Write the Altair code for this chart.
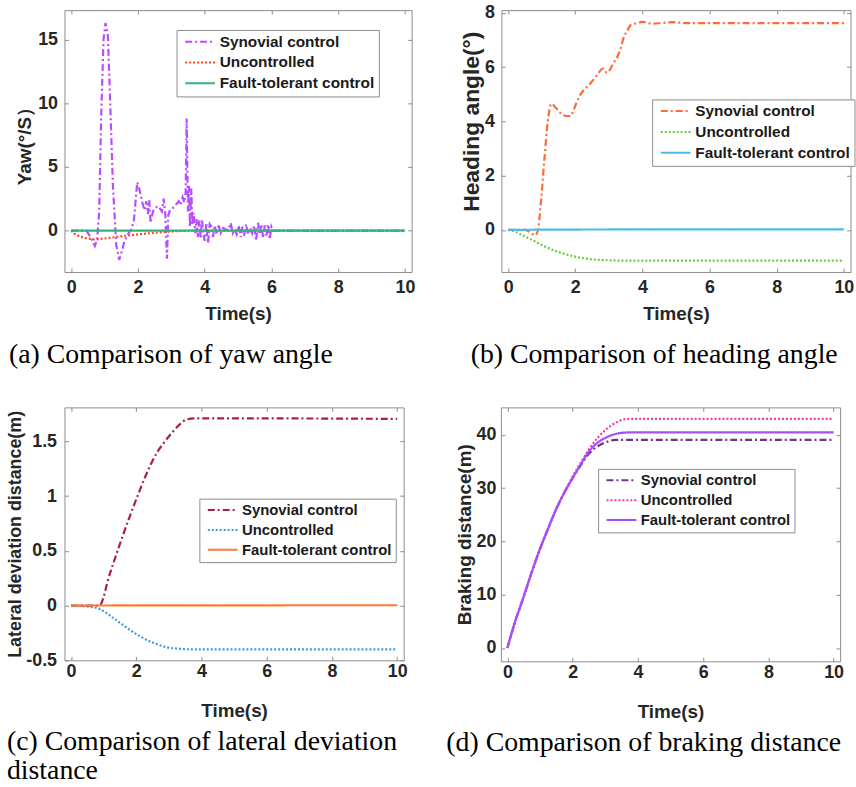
import altair as alt
import pandas as pd

SERIES = ["Synovial control", "Uncontrolled", "Fault-tolerant control"]
X_TICKS = [0, 2, 4, 6, 8, 10]
X_DOMAIN = [-0.2, 10.2]

# (a) yaw rate (deg/s) against time (s)
YAW_SYNOVIAL = [
    (0.0, 0.0), (0.3, 0.0), (0.46, 0.0), (0.6, -0.6), (0.71, -1.2), (0.78, -0.7),
    (0.84, 1.5), (0.9, 9.0), (0.97, 15.0), (1.03, 16.3), (1.1, 15.3), (1.17, 10.0),
    (1.25, 3.6), (1.35, -1.1), (1.44, -2.3), (1.52, -1.6), (1.6, -0.8), (1.7, -0.3),
    (1.8, 0.1), (1.88, 0.8), (1.98, 3.8), (2.05, 3.2), (2.13, 2.2), (2.2, 1.6),
    (2.25, 2.3), (2.3, 1.3), (2.34, 2.4), (2.38, 0.6), (2.45, 1.5), (2.52, 1.8),
    (2.62, 1.9), (2.72, 1.5), (2.77, 2.5), (2.82, 1.3), (2.87, -2.2), (2.91, 1.2),
    (2.96, 1.6), (3.02, 1.7), (3.1, 1.9), (3.16, 2.1), (3.22, 2.3), (3.28, 2.0),
    (3.34, 2.6), (3.39, 2.2), (3.43, 3.0), (3.46, 8.8), (3.5, 1.5), (3.53, 3.5),
    (3.56, 0.3), (3.6, 3.3), (3.63, 0.4), (3.67, 1.4), (3.72, -0.2), (3.76, 0.9),
    (3.8, -0.5), (3.84, 0.8), (3.88, -0.6), (3.92, 0.9), (3.96, -0.3), (4.0, -0.8),
    (4.05, 0.6), (4.1, -1.0), (4.15, 0.5), (4.2, 0.3), (4.25, -0.5), (4.3, 0.4),
    (4.36, -0.3), (4.42, 0.4), (4.48, -0.2), (4.55, 0.2), (4.62, 0.1), (4.7, 0.0),
    (4.78, 0.6), (4.84, -0.2), (4.9, 0.1), (4.96, -0.3), (5.02, 0.4), (5.08, -0.5),
    (5.13, 0.3), (5.18, -0.4), (5.24, 0.5), (5.3, -0.3), (5.36, 0.2), (5.42, -0.2),
    (5.48, 0.4), (5.54, -0.8), (5.6, 0.6), (5.65, -0.3), (5.7, 0.5), (5.75, -0.6),
    (5.8, 0.4), (5.85, -0.4), (5.9, 0.5), (5.95, -0.7), (6.0, 0.3), (6.05, 0.0),
    (10.0, 0.0),
]
YAW_UNCONTROLLED = [
    (0.0, 0.0), (0.1, -0.25), (0.25, -0.45), (0.45, -0.6), (0.7, -0.7), (1.0, -0.62),
    (1.5, -0.45), (2.0, -0.3), (2.5, -0.17), (3.0, -0.07), (3.5, -0.01), (4.0, 0.0),
    (10.0, 0.0),
]
YAW_FAULT_TOLERANT = [(0.0, 0.0), (2.0, 0.0), (5.0, 0.0), (10.0, 0.0)]

# (b) heading angle (deg)
HEADING_SYNOVIAL = [
    (0.0, 0.0), (0.5, 0.0), (0.65, -0.08), (0.8, -0.2), (0.88, -0.05), (0.98, 1.05),
    (1.08, 2.6), (1.18, 4.0), (1.29, 4.65), (1.42, 4.5), (1.57, 4.3), (1.72, 4.2),
    (1.86, 4.2), (1.96, 4.45), (2.11, 4.9), (2.25, 5.15), (2.45, 5.4), (2.65, 5.7),
    (2.82, 5.95), (2.94, 5.8), (3.14, 6.15), (3.33, 6.6), (3.46, 7.15), (3.53, 7.3),
    (3.67, 7.57), (3.85, 7.62), (4.0, 7.67), (4.3, 7.6), (4.6, 7.63), (4.9, 7.66),
    (5.3, 7.62), (6.0, 7.62), (10.0, 7.62),
]
HEADING_UNCONTROLLED = [
    (0.0, 0.0), (0.2, -0.06), (0.39, -0.17), (0.78, -0.41), (1.18, -0.66),
    (1.57, -0.84), (2.06, -1.0), (2.55, -1.09), (3.04, -1.12), (3.5, -1.13),
    (10.0, -1.13),
]
HEADING_FAULT_TOLERANT = [(0.0, 0.0), (1.0, 0.01), (5.0, 0.02), (10.0, 0.02)]

# (c) lateral deviation distance (m)
LATERAL_SYNOVIAL = [
    (0.0, 0.0), (0.87, 0.0), (1.18, 0.28), (1.59, 0.64), (2.0, 0.97), (2.31, 1.2),
    (2.62, 1.39), (2.83, 1.48), (3.13, 1.59), (3.35, 1.66), (3.55, 1.7), (3.85, 1.71),
    (5.0, 1.71), (10.0, 1.705),
]
LATERAL_UNCONTROLLED = [
    (0.0, 0.0), (0.57, -0.01), (0.87, -0.03), (1.28, -0.11), (1.7, -0.2),
    (2.11, -0.28), (2.52, -0.34), (2.93, -0.38), (3.34, -0.395), (3.8, -0.4),
    (10.0, -0.4),
]
LATERAL_FAULT_TOLERANT = [(0.0, 0.0), (3.0, 0.002), (10.0, 0.003)]

# (d) braking distance (m)
BRAKING_SYNOVIAL = [
    (0.0, 0.0), (0.22, 4.65), (0.48, 9.3), (0.73, 13.95), (0.98, 18.3), (1.24, 22.3),
    (1.49, 26.0), (1.74, 29.1), (2.0, 31.9), (2.25, 34.3), (2.5, 36.5), (2.76, 37.8),
    (3.06, 38.7), (3.31, 39.05), (3.6, 39.07), (10.0, 39.07),
]
BRAKING_UNCONTROLLED = [
    (0.0, 0.0), (0.22, 4.65), (0.48, 9.3), (0.73, 13.95), (0.98, 18.3), (1.24, 22.3),
    (1.49, 26.0), (1.74, 29.2), (2.0, 32.2), (2.25, 34.8), (2.5, 37.3), (2.76, 39.4),
    (3.06, 41.2), (3.36, 42.4), (3.62, 42.95), (3.8, 43.0), (10.0, 43.0),
]
BRAKING_FAULT_TOLERANT = [
    (0.0, 0.0), (0.22, 4.65), (0.48, 9.3), (0.73, 13.95), (0.98, 18.3), (1.24, 22.3),
    (1.49, 26.0), (1.74, 29.1), (2.0, 31.9), (2.25, 34.5), (2.5, 36.9), (2.76, 38.5),
    (3.06, 39.6), (3.3, 40.15), (3.55, 40.4), (3.7, 40.45), (10.0, 40.45),
]

BOX = "#8c8c8c"
INK = "#262626"
SANS = "Liberation Sans"
DASHES = [[7, 3, 2, 3], [2, 2], [1, 0]]
MINUS_FIX = "replace(datum.label, '\u2212', '-')"


def table(*series_pairs):
    rows = []
    for name, pairs in zip(SERIES, series_pairs):
        for t, v in pairs:
            rows.append({"t": t, "v": v, "series": name})
    return pd.DataFrame(rows)


def panel(data, colors, y_domain, y_ticks, y_title, size, legend_xy, legend_font,
          caption, caption_dx, caption_offset, x_label_pad, x_title_pad,
          y_label_pad, y_title_pad, y_title_size=19, y_title_y=None,
          interpolate="monotone"):
    width, height = size
    x_scale = alt.Scale(domain=X_DOMAIN, nice=False, zero=False)
    y_scale = alt.Scale(domain=y_domain, nice=False, zero=False)

    x_axis = alt.Axis(
        values=X_TICKS, title="Time(s)", labelFont=SANS, labelFontWeight="bold",
        labelFontSize=18, labelColor=INK, labelPadding=x_label_pad, labelFlush=False,
        labelOverlap=False, titleFont=SANS, titleFontWeight="bold", titleFontSize=19,
        titleColor=INK, titlePadding=x_title_pad, ticks=False, domain=False,
        grid=True, gridColor=BOX, gridDash=[4, 2000], gridOpacity=1,
    )
    y_opts = dict(
        values=y_ticks, title=y_title, format="~f", labelFont=SANS,
        labelFontWeight="bold", labelFontSize=18, labelColor=INK,
        labelPadding=y_label_pad, labelFlush=False, labelOverlap=False,
        labelExpr=MINUS_FIX, titleFont=SANS, titleFontWeight="bold",
        titleFontSize=y_title_size, titleColor=INK, titlePadding=y_title_pad,
        ticks=False, domain=False, grid=True, gridColor=BOX, gridDash=[4, 2000],
        gridOpacity=1,
    )
    if y_title_y is not None:
        y_opts["titleY"] = y_title_y

    legend = alt.Legend(
        orient="none", legendX=legend_xy[0], legendY=legend_xy[1], direction="vertical",
        labelFont=SANS, labelFontWeight="bold", labelFontSize=legend_font,
        labelColor="#1a1a1a", labelLimit=400, labelOffset=24,
        symbolType="M-1,0H9", symbolSize=36, symbolStrokeWidth=2,
        rowPadding=4, padding=4, strokeColor=BOX, fillColor="white", cornerRadius=0,
    )

    lines = alt.Chart(data).mark_line(clip=True, strokeWidth=2.2, interpolate=interpolate).encode(
        x=alt.X("t:Q", scale=x_scale, axis=x_axis),
        y=alt.Y("v:Q", scale=y_scale, axis=alt.Axis(**y_opts)),
        color=alt.Color("series:N", scale=alt.Scale(domain=SERIES, range=colors),
                        legend=legend, title=None),
        strokeDash=alt.StrokeDash("series:N", scale=alt.Scale(domain=SERIES, range=DASHES),
                                  legend=legend, title=None),
    )

    # inward tick marks on the top and right edges of the box
    edge_axis = dict(labels=False, ticks=False, domain=False, title=None, grid=True,
                     gridColor=BOX, gridDash=[4, 2000], gridOpacity=1, minExtent=0)
    edges = alt.Chart(data).mark_line(opacity=0).encode(
        x=alt.X("t:Q", scale=x_scale, axis=alt.Axis(orient="top", values=X_TICKS, **edge_axis)),
        y=alt.Y("v:Q", scale=y_scale, axis=alt.Axis(orient="right", values=y_ticks, **edge_axis)),
        detail="series:N",
    )

    return alt.layer(lines, edges).resolve_axis(x="independent", y="independent").properties(
        width=width, height=height,
        title=alt.TitleParams(
            caption, orient="bottom", anchor="start", frame="group", align="left",
            baseline="top", dx=caption_dx, offset=caption_offset,
            font="Liberation Serif", fontSize=28, fontWeight="normal", color="black",
            lineHeight=29.5,
        ),
    )


yaw = panel(
    table(YAW_SYNOVIAL, YAW_UNCONTROLLED, YAW_FAULT_TOLERANT),
    colors=["#B84DFF", "#FF4422", "#30B57A"], y_domain=[-3.25, 17.3],
    y_ticks=[0, 5, 10, 15], y_title="Yaw(°/S）", size=(350, 264),
    legend_xy=(113, 20), legend_font=15.5, caption="(a) Comparison of yaw angle",
    caption_dx=-56, caption_offset=18, x_label_pad=6.5, x_title_pad=8,
    y_label_pad=7, y_title_pad=3, interpolate="linear",
)
heading = panel(
    table(HEADING_SYNOVIAL, HEADING_UNCONTROLLED, HEADING_FAULT_TOLERANT),
    colors=["#FF6A33", "#66CC33", "#4DBBEB"], y_domain=[-1.55, 8.1],
    y_ticks=[0, 2, 4, 6, 8], y_title="Heading angle(°)", size=(352, 264),
    legend_xy=(152, 90), legend_font=15.5, caption="(b) Comparison of heading angle",
    caption_dx=-31, caption_offset=18, x_label_pad=6.5, x_title_pad=8,
    y_label_pad=7, y_title_pad=1, y_title_size=23, y_title_y=112,
)
lateral = panel(
    table(LATERAL_SYNOVIAL, LATERAL_UNCONTROLLED, LATERAL_FAULT_TOLERANT),
    colors=["#A8203E", "#3A9AE0", "#FF7A33"], y_domain=[-0.5, 1.81],
    y_ticks=[-0.5, 0, 0.5, 1, 1.5], y_title="Lateral deviation distance(m)",
    size=(342, 255), legend_xy=(136, 92), legend_font=15,
    caption=["(c) Comparison of lateral deviation", "distance"],
    caption_dx=-58, caption_offset=7, x_label_pad=2.5, x_title_pad=21.5,
    y_label_pad=8, y_title_pad=1, y_title_size=18,
)
braking = panel(
    table(BRAKING_SYNOVIAL, BRAKING_UNCONTROLLED, BRAKING_FAULT_TOLERANT),
    colors=["#73308F", "#FF33A8", "#A64DFF"], y_domain=[-2.5, 45.15],
    y_ticks=[0, 10, 20, 30, 40], y_title="Braking distance(m)", size=(342, 256),
    legend_xy=(98, 62), legend_font=15, caption="(d) Comparison of braking distance",
    caption_dx=-55, caption_offset=7, x_label_pad=2.5, x_title_pad=21.5,
    y_label_pad=5, y_title_pad=2,
)

independent = dict(x="independent", y="independent", color="independent",
                   strokeDash="independent")
top_row = alt.hconcat(yaw, heading, spacing=44.5).resolve_scale(**independent)
bottom_row = alt.hconcat(lateral, braking, spacing=38).resolve_scale(**independent)

chart = (
    alt.vconcat(top_row, bottom_row, spacing=37.5)
    .resolve_scale(**independent)
    .properties(padding={"left": 6, "top": 0, "right": 0, "bottom": 0}, background="white")
    .configure_view(stroke=BOX, strokeWidth=1)
)

chart.save("out.html", embed_options={"renderer": "svg", "actions": False})
